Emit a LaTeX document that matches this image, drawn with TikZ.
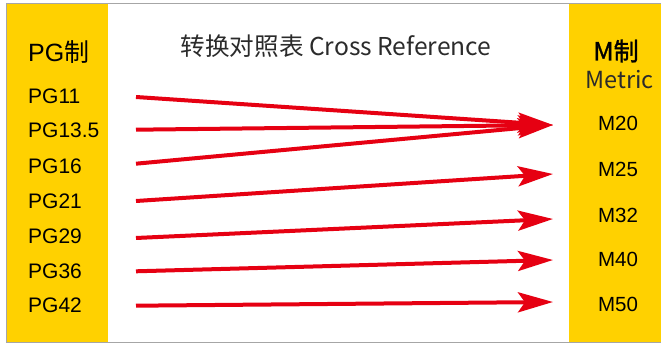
\documentclass[tikz,border=0pt]{standalone}
\usepackage{fontspec}
\setmainfont{Liberation Sans}
\newfontfamily\cjk{Noto Sans CJK SC}
\newfontfamily\cjkb[FakeBold=1.2]{Noto Sans CJK SC}
\usetikzlibrary{arrows.meta}
\definecolor{panel}{HTML}{FFD100}
\definecolor{arrowred}{HTML}{E60012}
\definecolor{frame}{HTML}{A6A6A6}
\definecolor{titlegray}{HTML}{2B2B2B}
\begin{document}
\begin{tikzpicture}[x=1pt,y=-1pt,
  pglabel/.style={anchor=west,inner sep=0pt,font=\fontsize{21}{24}\selectfont},
  mlabel/.style={inner sep=0pt,font=\fontsize{20.5}{24}\selectfont},
  conv/.style={draw=arrowred,line width=4pt,-{Stealth[length=35pt,width=20pt,inset=7pt]}}]
\useasboundingbox (0,0) rectangle (661,344);
\fill[white] (0,0) rectangle (661,344);
\fill[panel] (7,4) rectangle (108,342);
\fill[panel] (569,4) rectangle (661,342);
\draw[frame,line width=1pt] (6.5,3.5) -- (662,3.5);
\draw[frame,line width=1pt] (6.5,3.5) -- (6.5,342.5) -- (662,342.5);

\node[anchor=west,inner sep=0pt,font=\fontsize{25}{28}\selectfont] (pghead) at (28,52) {PG{\cjk 制}};
\node[pglabel] (pg11) at (28,96.7) {PG11};
\node[pglabel] (pg135) at (28,130.7) {PG13.5};
\node[pglabel] (pg16) at (28,165.8) {PG16};
\node[pglabel] (pg21) at (28,200.8) {PG21};
\node[pglabel] (pg29) at (28,235.8) {PG29};
\node[pglabel] (pg36) at (28,270.8) {PG36};
\node[pglabel] (pg42) at (28,305.5) {PG42};

\node[inner sep=0pt,font=\cjk\fontsize{24.6}{28}\selectfont,text=titlegray] (title) at (336,46) {转换对照表 Cross Reference};

\node[inner sep=0pt,font=\cjkb\fontsize{25}{28}\selectfont] (mhead) at (616,51) {M制};
\node[inner sep=0pt,font=\cjk\fontsize{23.5}{26}\selectfont,text=titlegray] (metric) at (619.5,80) {Metric};
\node[mlabel] (m20) at (618,123.3) {M20};
\node[mlabel] (m25) at (618,169) {M25};
\node[mlabel] (m32) at (618,215.5) {M32};
\node[mlabel] (m40) at (618,259.5) {M40};
\node[mlabel] (m50) at (618,304) {M50};

\coordinate (s1) at (136,97);
\coordinate (s2) at (136,129.7);
\coordinate (s3) at (136,163.7);
\coordinate (s4) at (136,201);
\coordinate (s5) at (136,238);
\coordinate (s6) at (136,271.3);
\coordinate (s7) at (136,305.7);
\coordinate (t1) at (553,125);
\coordinate (t2) at (553,174);
\coordinate (t3) at (553,219);
\coordinate (t4) at (553,260);
\coordinate (t5) at (553,302);

\draw[conv] (s1) -- (t1);
\draw[conv] (s2) -- (t1);
\draw[conv] (s3) -- (t1);
\draw[conv] (s4) -- (t2);
\draw[conv] (s5) -- (t3);
\draw[conv] (s6) -- (t4);
\draw[conv] (s7) -- (t5);
\end{tikzpicture}
\end{document}
